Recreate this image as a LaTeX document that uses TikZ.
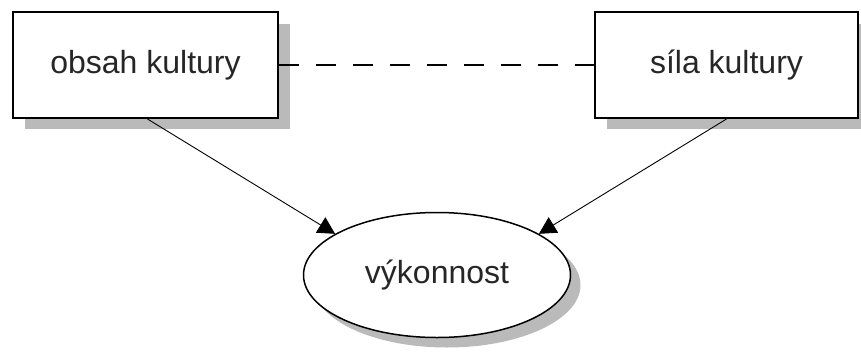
\documentclass[tikz,border=0pt]{standalone}
\usepackage{fontspec}
\setmainfont{Liberation Sans}
\usetikzlibrary{arrows.meta,shapes.geometric}
\begin{document}
\begin{tikzpicture}[x=1pt,y=-1pt,
  shadowfill/.style={fill=black!27,draw=none},
  boxnode/.style={draw=black,line width=2pt,fill=white,rectangle,inner sep=0pt,text=black!85,font=\fontsize{32}{38}\selectfont},
  ellnode/.style={draw=black,line width=1.5pt,fill=white,ellipse,inner sep=0pt,text=black!85,font=\fontsize{32}{38}\selectfont},
  arr/.style={line width=0.9pt,-{Triangle[length=17pt,width=18pt]}},
  dashline/.style={line width=2.2pt,dash pattern=on 20pt off 17pt}]
\useasboundingbox (0,0) rectangle (861,359);
% shadows
\fill[shadowfill] (25,24) rectangle (290,129);
\fill[shadowfill] (607,24) rectangle (870,129);
\fill[shadowfill] (447,285) ellipse [x radius=133.5pt, y radius=62.5pt];
% nodes
\node[boxnode,minimum width=265pt,minimum height=106pt] (L) at (145.5,65) {obsah kultury};
\node[boxnode,minimum width=263pt,minimum height=106pt] (R) at (726.5,65) {síla kultury};
\node[ellnode,minimum width=267pt,minimum height=125pt] (E) at (437,275) {výkonnost};
% connectors
\draw[dashline] (L.east) -- (R.west);
\draw[arr] ([xshift=2pt]L.south) -- (E.158);
\draw[arr] (R.south) -- (E.22);
\end{tikzpicture}
\end{document}
